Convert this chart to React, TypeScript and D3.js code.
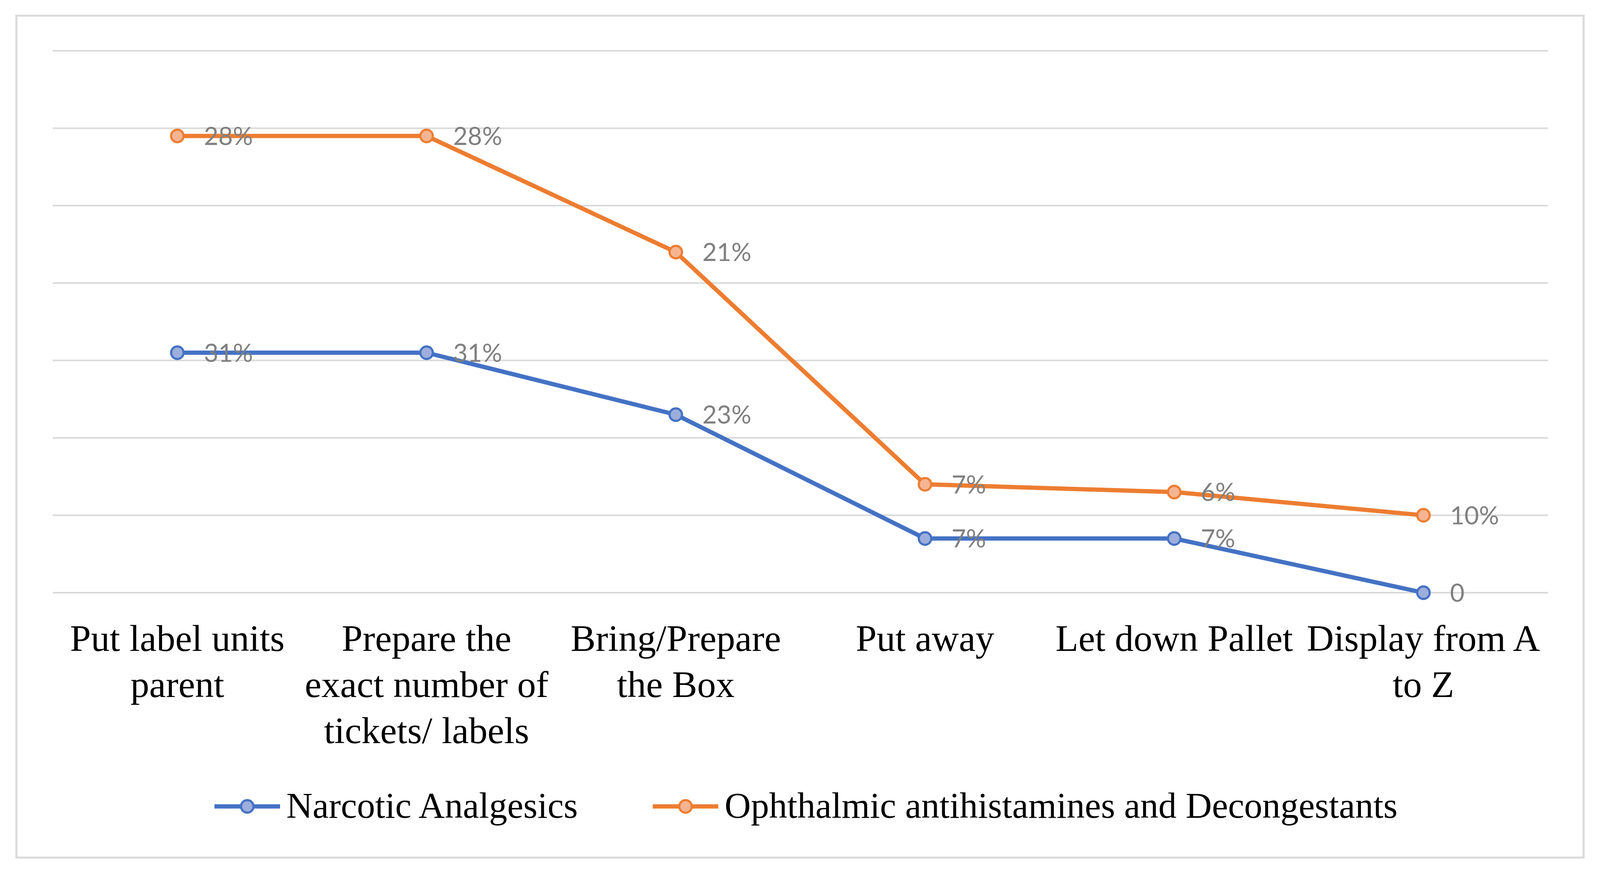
import React, { useEffect, useRef } from "react";
import * as d3 from "d3";

const categories = [
  ["Put label units", "parent"],
  ["Prepare the", "exact number of", "tickets/ labels"],
  ["Bring/Prepare", "the Box"],
  ["Put away"],
  ["Let down Pallet"],
  ["Display from A", "to Z"],
];
const narcotic = [31, 31, 23, 7, 7, 0];
const ophthalmic = [28, 28, 21, 7, 6, 10];
const narcoticLabels = ["31%", "31%", "23%", "7%", "7%", "0"];
const ophthalmicLabels = ["28%", "28%", "21%", "7%", "6%", "10%"];
const yTicks = [0, 10, 20, 30, 40, 50, 60, 70];
const seriesNames = ["Narcotic Analgesics", "Ophthalmic antihistamines and Decongestants"];

export default function App() {
  const svgRef = useRef<SVGSVGElement>(null);

  useEffect(() => {
    if (!svgRef.current) return;
    const plot = { left: 135, right: 3963, top: 130, bottom: 1517 };

    const svg = d3.select(svgRef.current);
    svg.selectAll("*").remove();

    // outer chart border
    svg.append("rect")
      .attr("x", 42).attr("y", 40)
      .attr("width", 4054 - 42).attr("height", 2195 - 40)
      .attr("fill", "#fff")
      .attr("stroke", "#d9d9d9")
      .attr("stroke-width", 5);

    const idx = categories.map((_, i) => i);
    const x = d3.scaleBand<number>().domain(idx).range([plot.left, plot.right]);
    const cx = (i: number) => (x(i) as number) + x.bandwidth() / 2;
    const y = d3.scaleLinear().domain([0, 70]).range([plot.bottom, plot.top]);

    // gridlines
    svg.append("g")
      .selectAll("line")
      .data(yTicks)
      .join("line")
      .attr("x1", plot.left).attr("x2", plot.right)
      .attr("y1", d => y(d)).attr("y2", d => y(d))
      .attr("stroke", "#d9d9d9")
      .attr("stroke-width", 4);

    // stacked values
    const rows = idx.map(i => ({ a: narcotic[i], b: ophthalmic[i] }));
    const stacked = d3.stack<any>().keys(["a", "b"])(rows);

    const series = [
      { color: "#4472C4", fill: "#9DAEDC", vals: stacked[0].map(d => d[1]), labels: narcoticLabels },
      { color: "#ED7D31", fill: "#F5B593", vals: stacked[1].map(d => d[1]), labels: ophthalmicLabels },
    ];

    const line = d3.line<number>().x((_, i) => cx(i)).y(d => y(d));

    series.forEach(s => {
      svg.append("path")
        .attr("d", line(s.vals))
        .attr("fill", "none")
        .attr("stroke", s.color)
        .attr("stroke-width", 11)
        .attr("stroke-linejoin", "round");
    });

    series.forEach(s => {
      svg.append("g")
        .selectAll("circle")
        .data(s.vals)
        .join("circle")
        .attr("cx", (_, i) => cx(i))
        .attr("cy", d => y(d))
        .attr("r", 16)
        .attr("fill", s.fill)
        .attr("stroke", s.color)
        .attr("stroke-width", 5.5);
    });

    series.forEach(s => {
      svg.append("g")
        .selectAll("text")
        .data(s.vals)
        .join("text")
        .attr("x", (_, i) => cx(i) + 68)
        .attr("y", d => y(d))
        .attr("dy", "0.36em")
        .style("font-family", "Lato, 'Liberation Sans', sans-serif")
        .style("font-size", "64px")
        .style("fill", "#808080")
        .text((_, i) => s.labels[i]);
    });

    // category labels
    const catG = svg.append("g")
      .style("font-family", "'Liberation Serif', 'DejaVu Serif', serif")
      .style("font-size", "96px")
      .style("fill", "#000");
    categories.forEach((lines, i) => {
      const t = catG.append("text").attr("text-anchor", "middle");
      lines.forEach((ln, j) => {
        t.append("tspan").attr("x", cx(i)).attr("y", 1666 + j * 118).text(ln);
      });
    });

    // legend
    const legendItems = [
      { name: seriesNames[0], color: "#4472C4", fill: "#9DAEDC", x0: 549 },
      { name: seriesNames[1], color: "#ED7D31", fill: "#F5B593", x0: 1671 },
    ];
    const ly = 2064;
    legendItems.forEach(it => {
      const g = svg.append("g");
      g.append("line")
        .attr("x1", it.x0).attr("x2", it.x0 + 168)
        .attr("y1", ly).attr("y2", ly)
        .attr("stroke", it.color).attr("stroke-width", 11);
      g.append("circle")
        .attr("cx", it.x0 + 84).attr("cy", ly).attr("r", 16)
        .attr("fill", it.fill).attr("stroke", it.color).attr("stroke-width", 5.5);
      g.append("text")
        .attr("x", it.x0 + 184).attr("y", ly + 29)
        .style("font-family", "'Liberation Serif', 'DejaVu Serif', serif")
        .style("font-size", "93px")
        .style("fill", "#000")
        .text(it.name);
    });
  }, []);

  return (
    <svg
      ref={svgRef}
      width={4108}
      height={2237}
      viewBox="0 0 4108 2237"
      style={{ position: "absolute", left: 0, top: 0, background: "#fff" }}
    />
  );
}
